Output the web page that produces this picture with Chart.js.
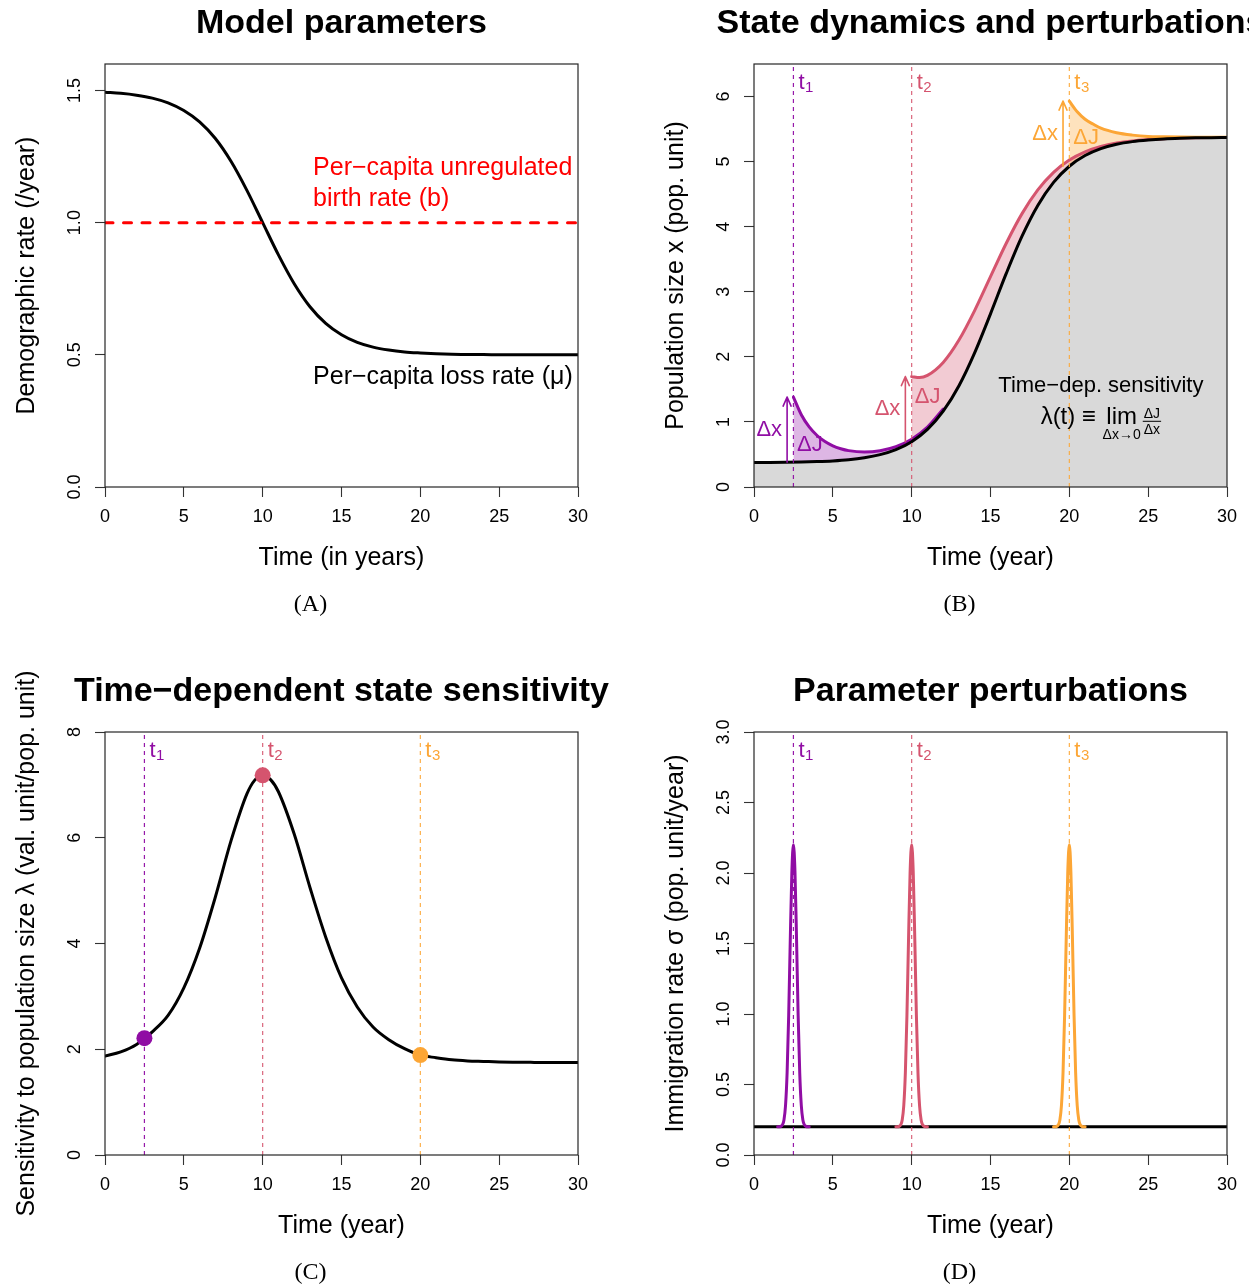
<!DOCTYPE html>
<html>
<head>
<meta charset="utf-8">
<title>Model parameters, state dynamics, sensitivity and perturbations</title>
<script src="https://cdn.jsdelivr.net/npm/chart.js@4.4.1/dist/chart.umd.min.js"></script>
<style>
  html, body { margin:0; padding:0; background:#ffffff; }
  #fig { position:relative; width:1249px; height:1287px; overflow:hidden; background:#ffffff; }
  #fig canvas { position:absolute; display:block; }
</style>
</head>
<body>
<div id="fig">
  <canvas id="panelA" width="624" height="643" style="left:0px;top:0px"></canvas>
  <canvas id="panelB" width="625" height="643" style="left:624px;top:0px"></canvas>
  <canvas id="panelC" width="624" height="644" style="left:0px;top:643px"></canvas>
  <canvas id="panelD" width="625" height="644" style="left:624px;top:643px"></canvas>
</div>
<script>
// ---------------- DATA ----------------
const xTicks = [0, 5, 10, 15, 20, 25, 30];
const years = [0,1,2,3,4,5,6,7,8,9,10,11,12,13,14,15,16,17,18,19,20,21,22,23,24,25,26,27,28,29,30];

// Panel A: demographic rates
const lossRate = [1.493,1.489,1.482,1.471,1.453,1.424,1.381,1.318,1.231,1.122,1.000,0.878,0.769,0.682,0.619,0.576,0.547,0.529,0.518,0.511,0.507,0.504,0.502,0.501,0.501,0.500,0.500,0.500,0.500,0.500,0.500];
const birthYears = [0, 30];
const birthRate = [1.0, 1.0];
const yTicksA = [0, 0.5, 1.0, 1.5];

// Panel B: population size and perturbed trajectories
const popSize = [0.377,0.377,0.379,0.383,0.390,0.401,0.419,0.449,0.497,0.574,0.696,0.885,1.165,1.557,2.066,2.661,3.282,3.855,4.327,4.681,4.929,5.093,5.199,5.266,5.307,5.332,5.349,5.359,5.365,5.368,5.370];
const pertTimes = [2.5, 10, 20];
const pert1Years = [2.5,3,3.5,4,4.5,5,5.5,6,7,8,9,10,11,12];
const pert1Size  = [1.381,1.110,0.923,0.791,0.698,0.632,0.588,0.559,0.538,0.558,0.620,0.734,0.921,1.198];
const pert2Years = [10,10.5,11,12,13,14,15,16,17,18,19,20,21,22,23,24,25,26,27,28,29,30];
const pert2Size  = [1.696,1.681,1.715,1.914,2.258,2.714,3.232,3.746,4.201,4.565,4.835,5.024,5.150,5.232,5.285,5.318,5.338,5.353,5.362,5.367,5.370,5.371];
const pert3Years = [20,20.5,21,21.5,22,23,24,25,26,27,28,29,30];
const pert3Size  = [5.929,5.766,5.651,5.577,5.513,5.443,5.407,5.387,5.382,5.378,5.375,5.374,5.373];
const deltaXYears = [2.1, 9.6, 19.6];
const deltaXFrom  = [0.381, 0.696, 4.929];
const deltaXTo    = [1.381, 1.696, 5.929];
const yTicksB = [0, 1, 2, 3, 4, 5, 6];

// Panel C: time-dependent sensitivity
const sensYears  = [0,1,2,2.5,3,4,5,6,7,8,9,9.5,10,10.5,11,12,13,14,15,16,17,18,19,20,21,22,23,24,25,26,27,28,29,30];
const sensValues = [1.87,1.95,2.09,2.21,2.33,2.64,3.16,3.91,4.88,5.95,6.83,7.09,7.18,7.10,6.87,6.07,5.06,4.12,3.35,2.80,2.42,2.18,2.01,1.89,1.84,1.80,1.78,1.77,1.76,1.755,1.752,1.75,1.75,1.75];
const sensAtPert = [2.21, 7.18, 1.89];
const yTicksC = [0, 2, 4, 6, 8];

// Panel D: immigration pulses
const immigYears = [0, 30];
const immigBase  = [0.2, 0.2];
const pulse1Years = [1.5,1.6,1.7,1.8,1.9,2.0,2.1,2.2,2.3,2.4,2.5,2.6,2.7,2.8,2.9,3.0,3.1,3.2,3.3,3.4,3.5];
const pulse2Years = [9.0,9.1,9.2,9.3,9.4,9.5,9.6,9.7,9.8,9.9,10.0,10.1,10.2,10.3,10.4,10.5,10.6,10.7,10.8,10.9,11.0];
const pulse3Years = [19.0,19.1,19.2,19.3,19.4,19.5,19.6,19.7,19.8,19.9,20.0,20.1,20.2,20.3,20.4,20.5,20.6,20.7,20.8,20.9,21.0];
const pulseRate   = [0.200,0.200,0.203,0.213,0.249,0.351,0.583,0.989,1.523,2.004,2.200,2.004,1.523,0.989,0.583,0.351,0.249,0.213,0.203,0.200,0.200];
const yTicksD = [0, 0.5, 1.0, 1.5, 2.0, 2.5, 3.0];

// ---------------- TEXT ANCHORS / STYLES (not data) ----------------
const labelAYear = 13.2;
const labelALevels = [1.18, 1.064, 0.391];
const deltaJYears = [2.73, 10.2, 20.25];
const deltaJLevels = [0.55, 1.29, 5.27];
const sensTextYear = 22.0;
const sensTextLevel = 1.463;

const FONT = '"Liberation Sans", Arial, Helvetica, sans-serif';
const SERIF = '"Liberation Serif", "Times New Roman", serif';
const pertColors = ['#900DA4', '#D5546E', '#FCA636'];
const pertFills  = ['rgba(144,13,164,0.30)', 'rgba(213,84,110,0.30)', 'rgba(252,166,54,0.33)'];
const vlineColors = ['rgba(144,13,164,0.95)', 'rgba(213,84,110,0.9)', 'rgba(252,166,54,0.9)'];

Chart.defaults.font.family = FONT;
Chart.defaults.color = '#000000';

const pts = (xs, ys) => xs.map((x, i) => ({x: x, y: ys[i]}));
const Y_AXIS_W = 100, X_AXIS_H = 100;

function curve(xs, ys, color, width, extra) {
  return Object.assign({
    data: pts(xs, ys), borderColor: color, borderWidth: width, fill: false,
    cubicInterpolationMode: 'monotone', pointRadius: 0, borderCapStyle: 'round', borderJoinStyle: 'round'
  }, extra || {});
}
function vline(t, ymax, color) {
  return {
    data: [{x: t, y: 0}, {x: t, y: ymax}], borderColor: color, borderWidth: 1.2,
    borderDash: [4, 4], tension: 0, pointRadius: 0, fill: false, borderCapStyle: 'butt'
  };
}

function drawTLabels(chart, ctx) {
  const xs = chart.scales.x, a = chart.chartArea;
  pertTimes.forEach((t, i) => {
    const x = xs.getPixelForValue(t) + 5;
    const y = a.top + 25;
    ctx.fillStyle = pertColors[i];
    ctx.textAlign = 'left'; ctx.textBaseline = 'alphabetic';
    ctx.font = '22px ' + FONT;
    ctx.fillText('t', x, y);
    const w = ctx.measureText('t').width;
    ctx.font = '15px ' + FONT;
    ctx.fillText(String(i + 1), x + w + 0.5, y + 3);
  });
}

function decorPlugin(spec) {
  return {
    id: 'decor' + spec.key,
    afterDatasetsDraw(chart) {
      const ctx = chart.ctx;
      ctx.save();
      if (spec.annotate) spec.annotate(chart, ctx);
      ctx.restore();
    },
    afterDraw(chart) {
      const ctx = chart.ctx, a = chart.chartArea;
      ctx.save();
      ctx.strokeStyle = '#262626'; ctx.lineWidth = 1.2;
      ctx.strokeRect(a.left, a.top, a.right - a.left, a.bottom - a.top);
      const cx = (a.left + a.right) / 2;
      ctx.fillStyle = '#000000'; ctx.textAlign = 'center'; ctx.textBaseline = 'alphabetic';
      ctx.font = 'bold 34px ' + FONT;
      ctx.fillText(spec.title, cx, a.top - 31);
      ctx.font = '24px ' + SERIF;
      ctx.fillText(spec.caption, cx - 31, a.bottom + 124);
      ctx.restore();
    }
  };
}

function buildChart(canvasId, spec) {
  const cv = document.getElementById(canvasId);
  const W = cv.width, H = cv.height, box = spec.box;
  const tickGrid = { display: true, drawOnChartArea: false, drawTicks: true, tickLength: 10, tickColor: '#333333', tickWidth: 1.1 };
  return new Chart(cv, {
    type: 'line',
    data: { datasets: spec.datasets },
    options: {
      responsive: false, animation: false, events: [], devicePixelRatio: 1,
      layout: { padding: { left: box.l - Y_AXIS_W, top: box.t, right: W - box.r, bottom: H - box.b - X_AXIS_H } },
      plugins: {
        legend: { display: false }, tooltip: { enabled: false }, title: { display: false },
        filler: { drawTime: 'beforeDatasetsDraw', propagate: false }
      },
      scales: {
        x: {
          type: 'linear', min: 0, max: 30,
          afterBuildTicks: s => { s.ticks = xTicks.map(v => ({value: v})); },
          afterFit: s => { s.height = X_AXIS_H; },
          grid: tickGrid, border: { display: false },
          ticks: { font: { size: 18 }, color: '#000', padding: 9.5, maxRotation: 0, autoSkip: false, callback: v => String(v) },
          title: { display: true, text: spec.xTitle, font: { size: 25 }, color: '#000', padding: { top: 0, bottom: 13.5 } }
        },
        y: {
          type: 'linear', min: 0, max: spec.yMax,
          afterBuildTicks: s => { s.ticks = spec.yTicks.map(v => ({value: v})); },
          afterFit: s => { s.width = Y_AXIS_W; },
          grid: tickGrid, border: { display: false },
          ticks: { font: { size: 18 }, color: '#000', minRotation: 90, maxRotation: 90, crossAlign: 'center',
                   padding: spec.yTickPad, autoSkip: false, callback: spec.yFmt },
          title: { display: true, text: spec.yTitle, font: { size: 25 }, color: '#000', padding: { top: 7, bottom: 0 } }
        }
      }
    },
    plugins: [decorPlugin(spec)]
  });
}

// ---------------- PANEL A ----------------
buildChart('panelA', {
  key: 'A', box: { l: 105, t: 64, r: 578, b: 487 },
  title: 'Model parameters', caption: '(A)',
  xTitle: 'Time (in years)', yTitle: 'Demographic rate (/year)',
  yMax: 1.6, yTicks: yTicksA, yTickPad: 7, yFmt: v => Number(v).toFixed(1),
  datasets: [
    curve(birthYears, birthRate, '#FF0000', 3, { borderDash: [8, 10.5], tension: 0, cubicInterpolationMode: 'default' }),
    curve(years, lossRate, '#000000', 3)
  ],
  annotate(chart, ctx) {
    const xs = chart.scales.x, ys = chart.scales.y;
    const x = xs.getPixelForValue(labelAYear);
    ctx.font = '25px ' + FONT; ctx.textAlign = 'left'; ctx.textBaseline = 'alphabetic';
    ctx.fillStyle = '#FF0000';
    ctx.fillText('Per\u2212capita unregulated', x, ys.getPixelForValue(labelALevels[0]));
    ctx.fillText('birth rate (b)', x, ys.getPixelForValue(labelALevels[1]));
    ctx.fillStyle = '#000000';
    ctx.fillText('Per\u2212capita loss rate (\u03BC)', x, ys.getPixelForValue(labelALevels[2]));
  }
});

// ---------------- PANEL B ----------------
function drawArrow(ctx, x, y0, y1, color) {
  ctx.save();
  ctx.strokeStyle = color; ctx.lineWidth = 1.6; ctx.lineCap = 'round'; ctx.lineJoin = 'round';
  const L = 9.8, ang = 0.42;
  ctx.beginPath();
  ctx.moveTo(x, y0); ctx.lineTo(x, y1);
  ctx.moveTo(x - L * Math.sin(ang), y1 + L * Math.cos(ang));
  ctx.lineTo(x, y1);
  ctx.lineTo(x + L * Math.sin(ang), y1 + L * Math.cos(ang));
  ctx.stroke();
  ctx.restore();
}
function drawFormula(ctx, cx, by) {
  const big = '24px ' + FONT, small = '14px ' + FONT;
  ctx.fillStyle = '#000000'; ctx.textBaseline = 'alphabetic';
  ctx.font = big;
  const w1 = ctx.measureText('\u03BB(t) \u2261 ').width;
  const wl = ctx.measureText('lim').width;
  ctx.font = small;
  const wsub = ctx.measureText('\u0394x\u21920').width;
  const wn = ctx.measureText('\u0394J').width, wd = ctx.measureText('\u0394x').width;
  const limBlock = Math.max(wl, wsub);
  const fracW = Math.max(wn, wd) + 2;
  const gap = 2;
  let x = cx - (w1 + limBlock + gap + fracW) / 2;
  ctx.font = big; ctx.textAlign = 'left';
  ctx.fillText('\u03BB(t) \u2261 ', x, by);
  x += w1;
  const limC = x + limBlock / 2;
  ctx.textAlign = 'center';
  ctx.fillText('lim', limC, by);
  ctx.font = small;
  ctx.fillText('\u0394x\u21920', limC, by + 15);
  x += limBlock + gap;
  const fc = x + fracW / 2;
  ctx.fillText('\u0394J', fc, by - 6);
  ctx.fillRect(x, by - 3, fracW, 1);
  ctx.fillText('\u0394x', fc, by + 10);
}

buildChart('panelB', {
  key: 'B', box: { l: 130, t: 64, r: 603, b: 487 },
  title: 'State dynamics and perturbations', caption: '(B)',
  xTitle: 'Time (year)', yTitle: 'Population size x (pop. unit)',
  yMax: 6.5, yTicks: yTicksB, yTickPad: 14.5, yFmt: v => String(v),
  datasets: [
    vline(pertTimes[0], 6.5, vlineColors[0]),
    vline(pertTimes[1], 6.5, vlineColors[1]),
    vline(pertTimes[2], 6.5, vlineColors[2]),
    curve(years, popSize, '#000000', 3),
    curve(pert3Years, pert3Size, pertColors[2], 3, { fill: 3, backgroundColor: pertFills[2] }),
    curve(pert2Years, pert2Size, pertColors[1], 3, { fill: 3, backgroundColor: pertFills[1] }),
    curve(pert1Years, pert1Size, pertColors[0], 3, { fill: 3, backgroundColor: pertFills[0] }),
    curve(years, popSize, 'rgba(0,0,0,0)', 0, { fill: 'origin', backgroundColor: '#D9D9D9' })
  ],
  annotate(chart, ctx) {
    const xs = chart.scales.x, ys = chart.scales.y;
    drawTLabels(chart, ctx);
    pertTimes.forEach((t, i) => {
      const ax = xs.getPixelForValue(deltaXYears[i]);
      const y0 = ys.getPixelForValue(deltaXFrom[i]);
      const y1 = ys.getPixelForValue(deltaXTo[i]);
      drawArrow(ctx, ax, y0, y1, pertColors[i]);
      ctx.fillStyle = pertColors[i];
      ctx.font = '22px ' + FONT;
      ctx.textAlign = 'right'; ctx.textBaseline = 'middle';
      ctx.fillText('\u0394x', ax - 5, (y0 + y1) / 2);
      ctx.textAlign = 'left'; ctx.textBaseline = 'alphabetic';
      ctx.fillText('\u0394J', xs.getPixelForValue(deltaJYears[i]), ys.getPixelForValue(deltaJLevels[i]));
    });
    const cx = xs.getPixelForValue(sensTextYear);
    const by = ys.getPixelForValue(sensTextLevel);
    ctx.fillStyle = '#000000'; ctx.font = '22px ' + FONT;
    ctx.textAlign = 'center'; ctx.textBaseline = 'alphabetic';
    ctx.fillText('Time\u2212dep. sensitivity', cx, by);
    drawFormula(ctx, cx, by + 32);
  }
});

// ---------------- PANEL C ----------------
buildChart('panelC', {
  key: 'C', box: { l: 105, t: 89, r: 578, b: 512 },
  title: 'Time\u2212dependent state sensitivity', caption: '(C)',
  xTitle: 'Time (year)', yTitle: 'Sensitivity to population size \u03BB (val. unit/pop. unit)',
  yMax: 8, yTicks: yTicksC, yTickPad: 14.5, yFmt: v => String(v),
  datasets: [
    { data: pts(pertTimes, sensAtPert), showLine: false, pointRadius: 8, pointHoverRadius: 8,
      pointBackgroundColor: pertColors, pointBorderWidth: 0, pointBorderColor: pertColors },
    vline(pertTimes[0], 8, vlineColors[0]),
    vline(pertTimes[1], 8, vlineColors[1]),
    vline(pertTimes[2], 8, vlineColors[2]),
    curve(sensYears, sensValues, '#000000', 3)
  ],
  annotate(chart, ctx) { drawTLabels(chart, ctx); }
});

// ---------------- PANEL D ----------------
buildChart('panelD', {
  key: 'D', box: { l: 130, t: 89, r: 603, b: 512 },
  title: 'Parameter perturbations', caption: '(D)',
  xTitle: 'Time (year)', yTitle: 'Immigration rate \u03C3 (pop. unit/year)',
  yMax: 3, yTicks: yTicksD, yTickPad: 7, yFmt: v => Number(v).toFixed(1),
  datasets: [
    vline(pertTimes[0], 3, vlineColors[0]),
    vline(pertTimes[1], 3, vlineColors[1]),
    vline(pertTimes[2], 3, vlineColors[2]),
    curve(pulse1Years, pulseRate, pertColors[0], 3),
    curve(pulse2Years, pulseRate, pertColors[1], 3),
    curve(pulse3Years, pulseRate, pertColors[2], 3),
    curve(immigYears, immigBase, '#000000', 3, { tension: 0, cubicInterpolationMode: 'default' })
  ],
  annotate(chart, ctx) { drawTLabels(chart, ctx); }
});
</script>
</body>
</html>
